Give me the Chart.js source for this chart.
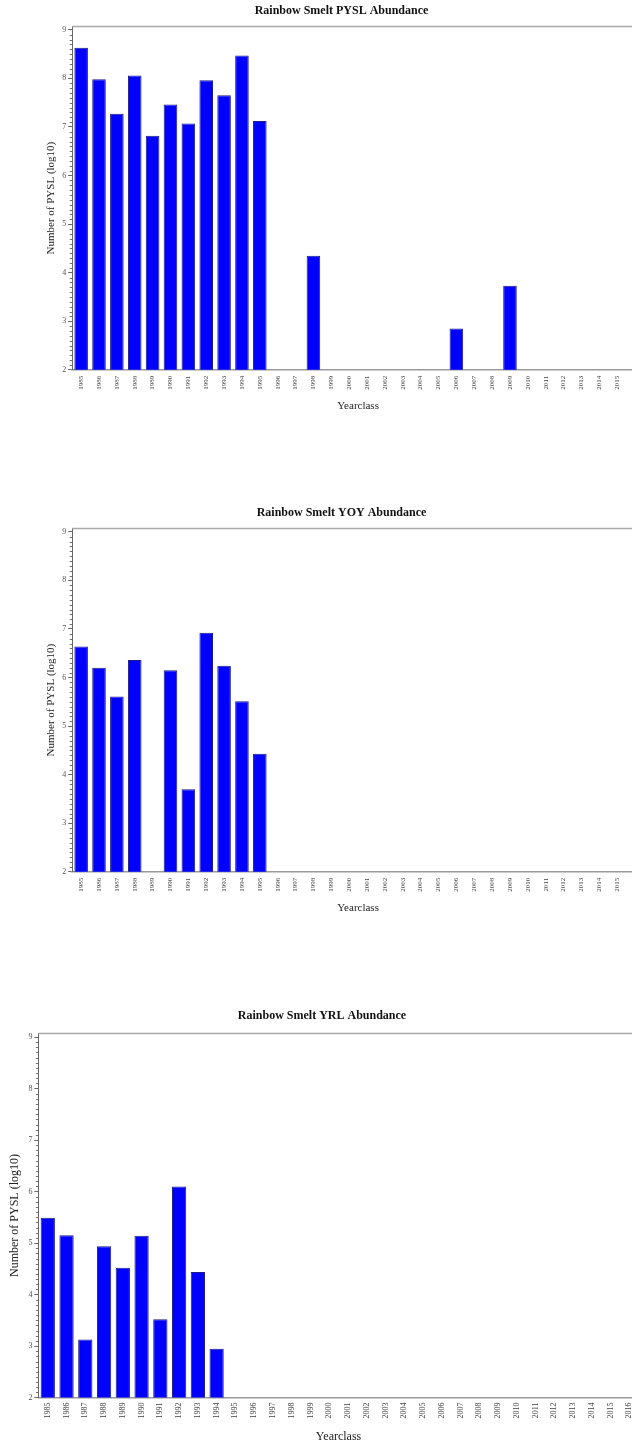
<!DOCTYPE html>
<html>
<head>
<meta charset="utf-8">
<script src="https://cdn.jsdelivr.net/npm/chart.js@4.4.1/dist/chart.umd.min.js"></script>
<style>
  html, body { margin: 0; padding: 0; background: #fff; width: 632px; height: 1444px; overflow: hidden; }
  .panel { position: absolute; left: 0; }
</style>
</head>
<body>
<div class="panel" style="top:0px;width:686px;height:417px"><canvas id="pysl"></canvas></div>
<div class="panel" style="top:502px;width:686px;height:417px"><canvas id="yoy"></canvas></div>
<div class="panel" style="top:1005px;width:644px;height:443px"><canvas id="yrl"></canvas></div>
<script>
// Year classes on the x axis
const yearclasses = ['1985','1986','1987','1988','1989','1990','1991','1992','1993','1994','1995',
  '1996','1997','1998','1999','2000','2001','2002','2003','2004','2005','2006','2007','2008',
  '2009','2010','2011','2012','2013','2014','2015','2016'];

// log10 abundance per year class (null = no catch)
const pyslLog = [8.63, 7.98, 7.27, 8.06, 6.82, 7.46, 7.07, 7.96, 7.65, 8.47, 7.12,
  null, null, 4.35, null, null, null, null, null, null, null, 2.85, null, null,
  3.73, null, null, null, null, null, null, null];
const yoyLog = [6.64, 6.20, 5.61, 6.36, null, 6.15, 3.70, 6.92, 6.24, 5.51, 4.43,
  null, null, null, null, null, null, null, null, null, null, null, null, null,
  null, null, null, null, null, null, null, null];
const yrlLog = [5.49, 5.15, 3.13, 4.94, 4.52, 5.14, 3.52, 6.10, 4.44, 2.95,
  null, null, null, null, null, null, null, null, null, null, null, null, null, null,
  null, null, null, null, null, null, null, null];

const yTickValues = [2, 3, 4, 5, 6, 7, 8, 9];

const SERIF = "'Liberation Serif', 'DejaVu Serif', serif";

// Top frame line and the minor tick marks on the value axis
const frameAndMinor = {
  id: 'frameAndMinor',
  afterDraw(chart) {
    const { ctx, chartArea: a, scales: { y } } = chart;
    ctx.save();
    ctx.strokeStyle = '#a9a9a9';
    ctx.lineWidth = 1.5;
    ctx.beginPath();
    ctx.moveTo(a.left, a.top);
    ctx.lineTo(a.right + 20, a.top);
    ctx.stroke();
    ctx.strokeStyle = '#707070';
    ctx.lineWidth = 1;
    for (let k = 20; k <= 90; k++) {
      if (k % 10 === 0) continue;
      const py = Math.round(y.getPixelForValue(k / 10)) + 0.5;
      ctx.beginPath();
      ctx.moveTo(a.left - 2.5, py);
      ctx.lineTo(a.left, py);
      ctx.stroke();
    }
    ctx.restore();
  }
};

function abundanceChart(id, title, values, g) {
  return new Chart(document.getElementById(id), {
    type: 'bar',
    data: {
      labels: yearclasses,
      datasets: [{
        data: values,
        backgroundColor: '#0000ff',
        borderColor: '#1c1c8c',
        borderWidth: 1,
        categoryPercentage: 1.0,
        barPercentage: 0.76
      }]
    },
    options: {
      responsive: true,
      maintainAspectRatio: false,
      animation: false,
      layout: { padding: { left: g.padLeft, right: g.padRight, top: 0, bottom: 0 } },
      plugins: {
        legend: { display: false },
        tooltip: { enabled: false },
        title: {
          display: true,
          text: title,
          color: '#111',
          font: { family: SERIF, size: 12, weight: 'bold' },
          padding: { top: 4, bottom: g.titleGap }
        }
      },
      scales: {
        x: {
          grid: { display: false, drawTicks: false },
          border: { display: true, color: '#9a9a9a', width: 1.5 },
          ticks: {
            autoSkip: false,
            minRotation: 90,
            maxRotation: 90,
            padding: g.xTickPad,
            color: '#444',
            font: { family: SERIF, size: g.xTickSize }
          },
          title: {
            display: true,
            text: 'Yearclass',
            color: '#222',
            font: { family: SERIF, size: g.axisTitleSize },
            padding: { top: g.xTitleGap, bottom: 4 }
          }
        },
        y: {
          min: 2,
          max: 9.07,
          afterBuildTicks: (scale) => {
            scale.ticks = yTickValues.map(v => ({ value: v }));
          },
          grid: { drawOnChartArea: false, drawTicks: true, tickLength: 4, tickColor: '#666' },
          border: { display: true, color: '#666', width: 1 },
          ticks: {
            padding: 2,
            color: '#555',
            font: { family: SERIF, size: g.yTickSize }
          },
          title: {
            display: true,
            text: 'Number of PYSL (log10)',
            color: '#222',
            font: { family: SERIF, size: g.axisTitleSize },
            padding: { top: g.yTitleOuter, bottom: g.yTitleInner }
          }
        }
      }
    },
    plugins: [frameAndMinor]
  });
}

const wideGeom = { padLeft: 39, padRight: 42, titleGap: 8, xTickPad: 6, xTickSize: 7, yTickSize: 8, axisTitleSize: 11, xTitleGap: 4, yTitleOuter: 6, yTitleInner: 2 };
const yrlGeom = { padLeft: 4, padRight: 4, titleGap: 10, xTickPad: 5, xTickSize: 8, yTickSize: 8, axisTitleSize: 12, xTitleGap: 6, yTitleOuter: 4, yTitleInner: 4 };

abundanceChart('pysl', 'Rainbow Smelt PYSL Abundance', pyslLog, wideGeom);
abundanceChart('yoy', 'Rainbow Smelt YOY Abundance', yoyLog, wideGeom);
abundanceChart('yrl', 'Rainbow Smelt YRL Abundance', yrlLog, yrlGeom);
</script>
</body>
</html>
